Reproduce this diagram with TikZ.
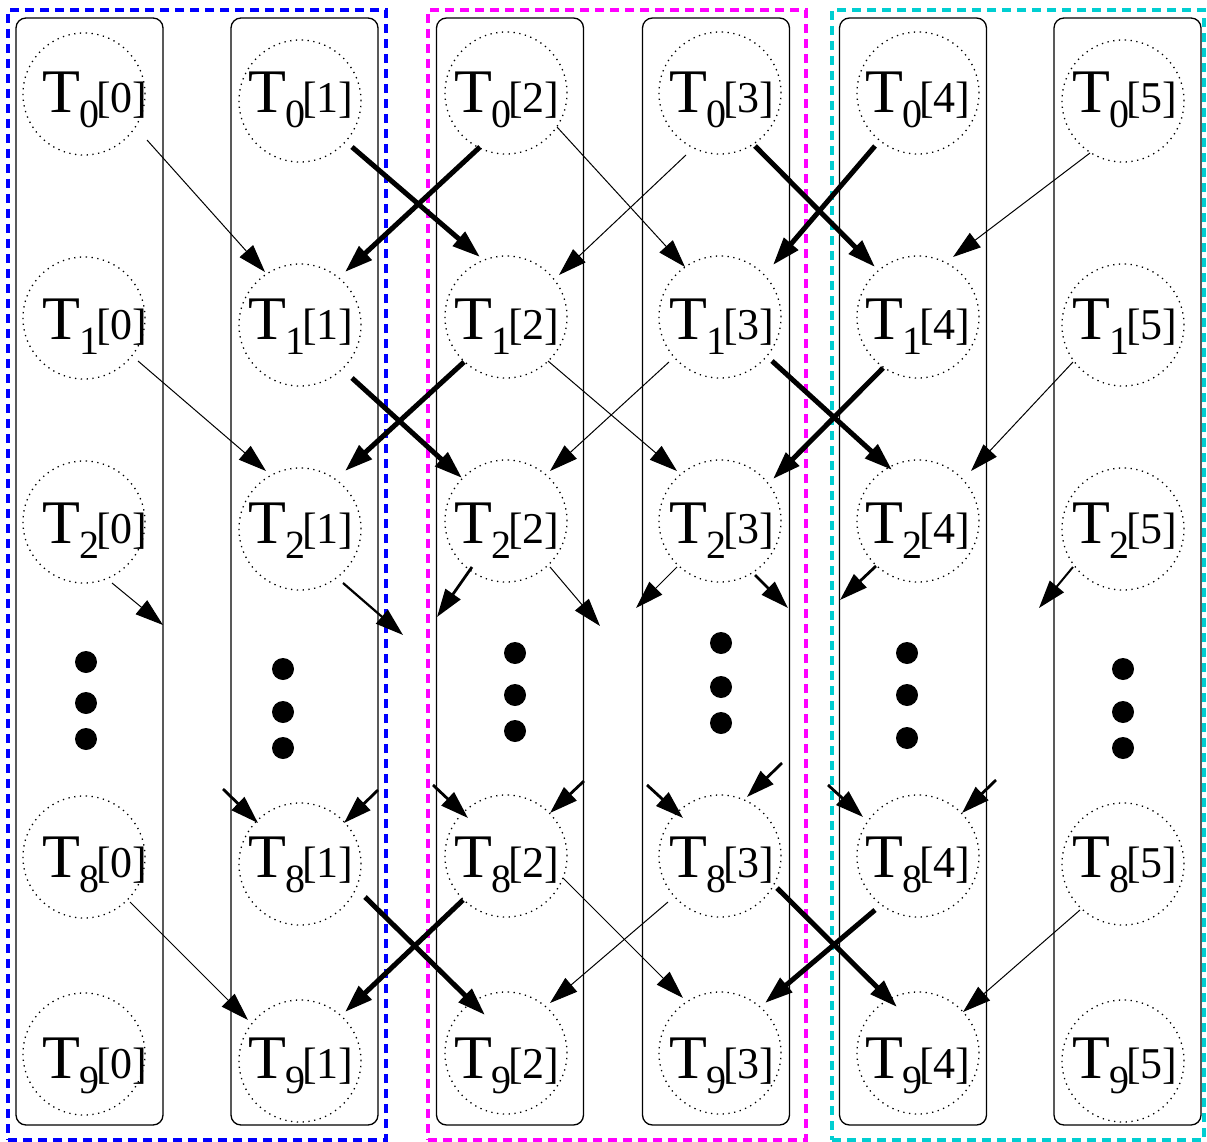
\documentclass[tikz,border=0pt]{standalone}
\usepackage{fontspec}
\setmainfont{Liberation Serif}
\usetikzlibrary{arrows.meta,calc}
\definecolor{grpblue}{RGB}{0,0,255}
\definecolor{grpmag}{RGB}{255,0,255}
\definecolor{grpcyan}{RGB}{0,206,209}
\newcommand\tlab[2]{{\fontsize{62}{62}\selectfont T}\kern-1pt\raisebox{-15pt}{\fontsize{40}{40}\selectfont #1}\kern-3pt{\fontsize{44}{44}\selectfont [#2]}}
\begin{document}
\begin{tikzpicture}[x=1pt,y=-1pt,
  cell/.style={circle,draw,line width=1.3pt,dash pattern=on 1.3pt off 4.5pt,minimum size=122pt,inner sep=0pt},
  lbl/.style={anchor=base,inner sep=0pt},
  colbox/.style={draw,line width=1.3pt,rounded corners=10pt,minimum width=147pt,minimum height=1107pt,inner sep=0pt},
  grp/.style={draw,line width=3.5pt,dash pattern=on 9pt off 6pt,minimum height=1130pt,inner sep=0pt},
  arr/.style={-{Triangle[length=28pt,width=18pt]}},
  thinarr/.style={arr,line width=1pt},
  medarr/.style={arr,line width=2.8pt},
  thickarr/.style={arr,line width=5pt},
  dotn/.style={circle,fill,inner sep=0pt,minimum size=22pt}]
\useasboundingbox (0,0) rectangle (1207,1142);

% group boxes
\node[grp,grpblue,minimum width=378pt] (g0) at (197,575) {};
\node[grp,grpmag,minimum width=378pt] (g1) at (617,575) {};
\node[grp,grpcyan,minimum width=372pt] (g2) at (1018,575) {};

% column boxes
\node[colbox] (k0) at (89.5,571.5) {};
\node[colbox] (k1) at (304.5,571.5) {};
\node[colbox] (k2) at (510,571.5) {};
\node[colbox] (k3) at (716,571.5) {};
\node[colbox] (k4) at (913,571.5) {};
\node[colbox] (k5) at (1127.5,571.5) {};

% cells and labels
\foreach \r/\ry/\by in {0/93/113, 1/317/339, 2/521/543, 8/856/877, 9/1053/1078} {
  \foreach \c/\cx/\dy/\lx in {0/84/1/95, 1/300/8/301, 2/506/0/507, 3/720/0/722, 4/918/0/918, 5/1123/8/1125} {
    \node[cell] (c\r\c) at (\cx,\ry+\dy) {};
    \node[lbl] (l\r\c) at (\lx,\by) {\tlab{\r}{\c}};
  }
}

% vertical dots
\foreach \c/\x/\ya/\yb/\yc in {0/86/662/703/739, 1/283/669/712/748, 2/515/653/695/731, 3/721/643/687/723, 4/907/653/695/738, 5/1123/669/712/748} {
  \node[dotn] (da\c) at (\x,\ya) {};
  \node[dotn] (db\c) at (\x,\yb) {};
  \node[dotn] (dc\c) at (\x,\yc) {};
}

% T0 -> T1
\draw[thinarr]  ($(c00)+(63,46)$)  -- ($(c11)+(-35,-53)$);
\draw[thickarr] ($(c01)+(52,46)$)  -- ($(c12)+(-26,-60)$);
\draw[thickarr] ($(c02)+(-26,54)$) -- ($(c11)+(45,-53)$);
\draw[thinarr]  ($(c02)+(51,34)$)  -- ($(c13)+(-35,-50)$);
\draw[thinarr]  ($(c03)+(-34,62)$) -- ($(c12)+(53,-42)$);
\draw[thickarr] ($(c03)+(35,53)$)  -- ($(c14)+(-43,-50)$);
\draw[thickarr] ($(c04)+(-43,53)$) -- ($(c13)+(53,-52)$);
\draw[thinarr]  ($(c05)+(-33,52)$) -- ($(c14)+(35,-60)$);

% T1 -> T2
\draw[thinarr]  ($(c10)+(54,43)$)  -- ($(c21)+(-34,-58)$);
\draw[thickarr] ($(c11)+(52,53)$)  -- ($(c22)+(-44,-43)$);
\draw[thickarr] ($(c12)+(-42,45)$) -- ($(c21)+(45,-58)$);
\draw[thinarr]  ($(c12)+(42,44)$)  -- ($(c23)+(-43,-50)$);
\draw[thinarr]  ($(c13)+(-51,45)$) -- ($(c22)+(44,-50)$);
\draw[thickarr] ($(c13)+(52,44)$)  -- ($(c24)+(-26,-51)$);
\draw[thickarr] ($(c14)+(-35,51)$) -- ($(c23)+(53,-42)$);
\draw[thinarr]  ($(c15)+(-50,37)$) -- ($(c24)+(53,-50)$);

% T2 -> (free ends)
\coordinate (e0) at (163,625);
\coordinate (e1) at (403,635);
\coordinate (e2) at (437,617);
\coordinate (e3) at (600,626);
\coordinate (e4) at (636,608);
\coordinate (e5) at (788,608);
\coordinate (e6) at (840,600);
\coordinate (e7) at (1039,608);
\draw[thinarr] ($(c20)+(28,61)$)  -- (e0);
\draw[arr,line width=2.2pt] ($(c21)+(43,54)$) -- (e1);
\draw[medarr]  ($(c22)+(-34,46)$) -- (e2);
\draw[thinarr] ($(c22)+(44,46)$)  -- (e3);
\draw[thinarr] ($(c23)+(-43,46)$) -- (e4);
\draw[medarr]  ($(c23)+(35,54)$)  -- (e5);
\draw[medarr]  ($(c24)+(-42,45)$) -- (e6);
\draw[arr,line width=2pt] ($(c25)+(-50,38)$) -- (e7);

% (free starts) -> T8
\coordinate (s0) at (223,789);
\coordinate (s1) at (378,790);
\coordinate (s2) at (433,785);
\coordinate (s3) at (584,781);
\coordinate (s4) at (647,785);
\coordinate (s5) at (782,763);
\coordinate (s6) at (828,785);
\coordinate (s7) at (996,780);
\draw[medarr] (s0) -- ($(c81)+(-42,-41)$);
\draw[medarr] (s1) -- ($(c81)+(44,-41)$);
\draw[medarr] (s2) -- ($(c82)+(-38,-38)$);
\draw[medarr] (s3) -- ($(c82)+(44,-43)$);
\draw[medarr] (s4) -- ($(c83)+(-37,-38)$);
\draw[medarr] (s5) -- ($(c83)+(27,-59)$);
\draw[medarr] (s6) -- ($(c84)+(-55,-39)$);
\draw[medarr] (s7) -- ($(c84)+(44,-43)$);

% T8 -> T9
\draw[thinarr]  ($(c80)+(46,45)$)  -- ($(c91)+(-52,-41)$);
\draw[thickarr] ($(c81)+(65,33)$)  -- ($(c92)+(-21,-38)$);
\draw[thickarr] ($(c82)+(-43,44)$) -- ($(c91)+(45,-49)$);
\draw[thinarr]  ($(c82)+(57,22)$)  -- ($(c93)+(-37,-55)$);
\draw[thinarr]  ($(c83)+(-52,46)$) -- ($(c92)+(44,-50)$);
\draw[thickarr] ($(c83)+(57,32)$)  -- ($(c94)+(-21,-46)$);
\draw[thickarr] ($(c84)+(-43,54)$) -- ($(c93)+(45,-50)$);
\draw[thinarr]  ($(c85)+(-43,46)$) -- ($(c94)+(45,-41)$);
\end{tikzpicture}
\end{document}
